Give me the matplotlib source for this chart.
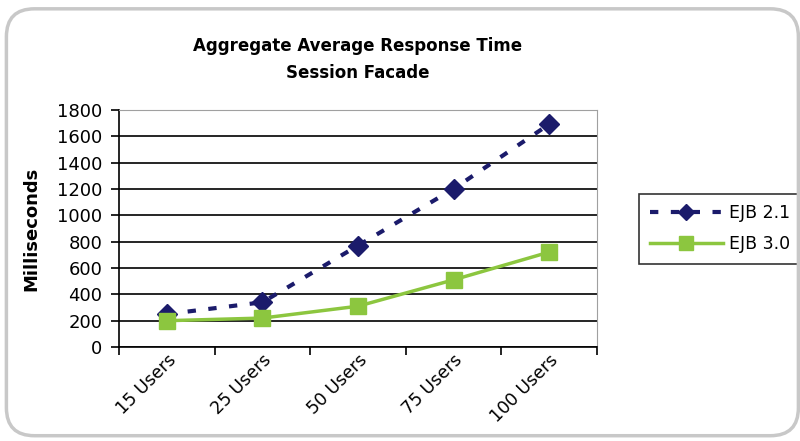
import matplotlib.pyplot as plt
from matplotlib.patches import FancyBboxPatch

# Data
users = ["15 Users", "25 Users", "50 Users", "75 Users", "100 Users"]
ejb21 = [250, 340, 770, 1200, 1690]
ejb30 = [200, 220, 310, 510, 720]

plt.rcParams['font.family'] = ['DejaVu Sans']

fig = plt.figure(figsize=(8, 4.41), dpi=100)

# rounded frame round the whole chart
frame = FancyBboxPatch((0.008, 0.012), 0.99, 0.968, boxstyle="round,pad=0,rounding_size=0.035",
                       transform=fig.transFigure, facecolor='none', edgecolor='#c8c8c8',
                       linewidth=2.5, mutation_aspect=800 / 441, zorder=5)
fig.patches.append(frame)

ax = fig.add_axes([0.149, 0.213, 0.597, 0.538])
x = list(range(len(users)))

ax.plot(x, ejb21, linestyle=(0, (2.0, 3.0)), color='#1b1b6b', linewidth=3,
        marker='D', markersize=10, label='EJB 2.1')
ax.plot(x, ejb30, linestyle='-', color='#8cc63f', linewidth=2.5,
        marker='s', markersize=12, label='EJB 3.0')

ax.set_ylim(0, 1800)
ax.set_yticks(range(0, 1801, 200))
ax.set_xlim(-0.5, len(users) - 0.5)
ax.set_xticks([i - 0.5 for i in range(len(users) + 1)])
ax.set_xticklabels([])
ax.set_xticks(x, minor=True)
ax.set_xticklabels(users, minor=True, rotation=45, ha='right', va='top',
                   rotation_mode='anchor', fontsize=12.5)
ax.tick_params(axis='x', which='minor', length=0, pad=3)
ax.tick_params(axis='x', which='major', length=6, width=1.2, direction='out')
ax.tick_params(axis='y', length=6, width=1.2, labelsize=13, pad=6)

ax.grid(axis='y', color='black', linewidth=1.2)
ax.set_axisbelow(True)
for side in ['left', 'bottom']:
    ax.spines[side].set_linewidth(1.2)
for side in ['top', 'right']:
    ax.spines[side].set_color('#a0a0a0')

ax.set_ylabel("Milliseconds", fontsize=13, fontweight='bold', labelpad=12)
fig.text(0.447, 0.865, "Aggregate Average Response Time\nSession Facade",
         ha='center', va='center', fontsize=12, fontweight='bold', linespacing=1.6)

leg = ax.legend(loc='upper left', bbox_to_anchor=(0.799, 0.56), bbox_transform=fig.transFigure,
                borderaxespad=0, frameon=True, fancybox=False, edgecolor='black', fontsize=12.5,
                handlelength=4.2, borderpad=0.6, labelspacing=0.75, handletextpad=0.4,
                markerscale=0.85)
leg.get_frame().set_linewidth(1.2)

fig.savefig("out.png", dpi=100)
